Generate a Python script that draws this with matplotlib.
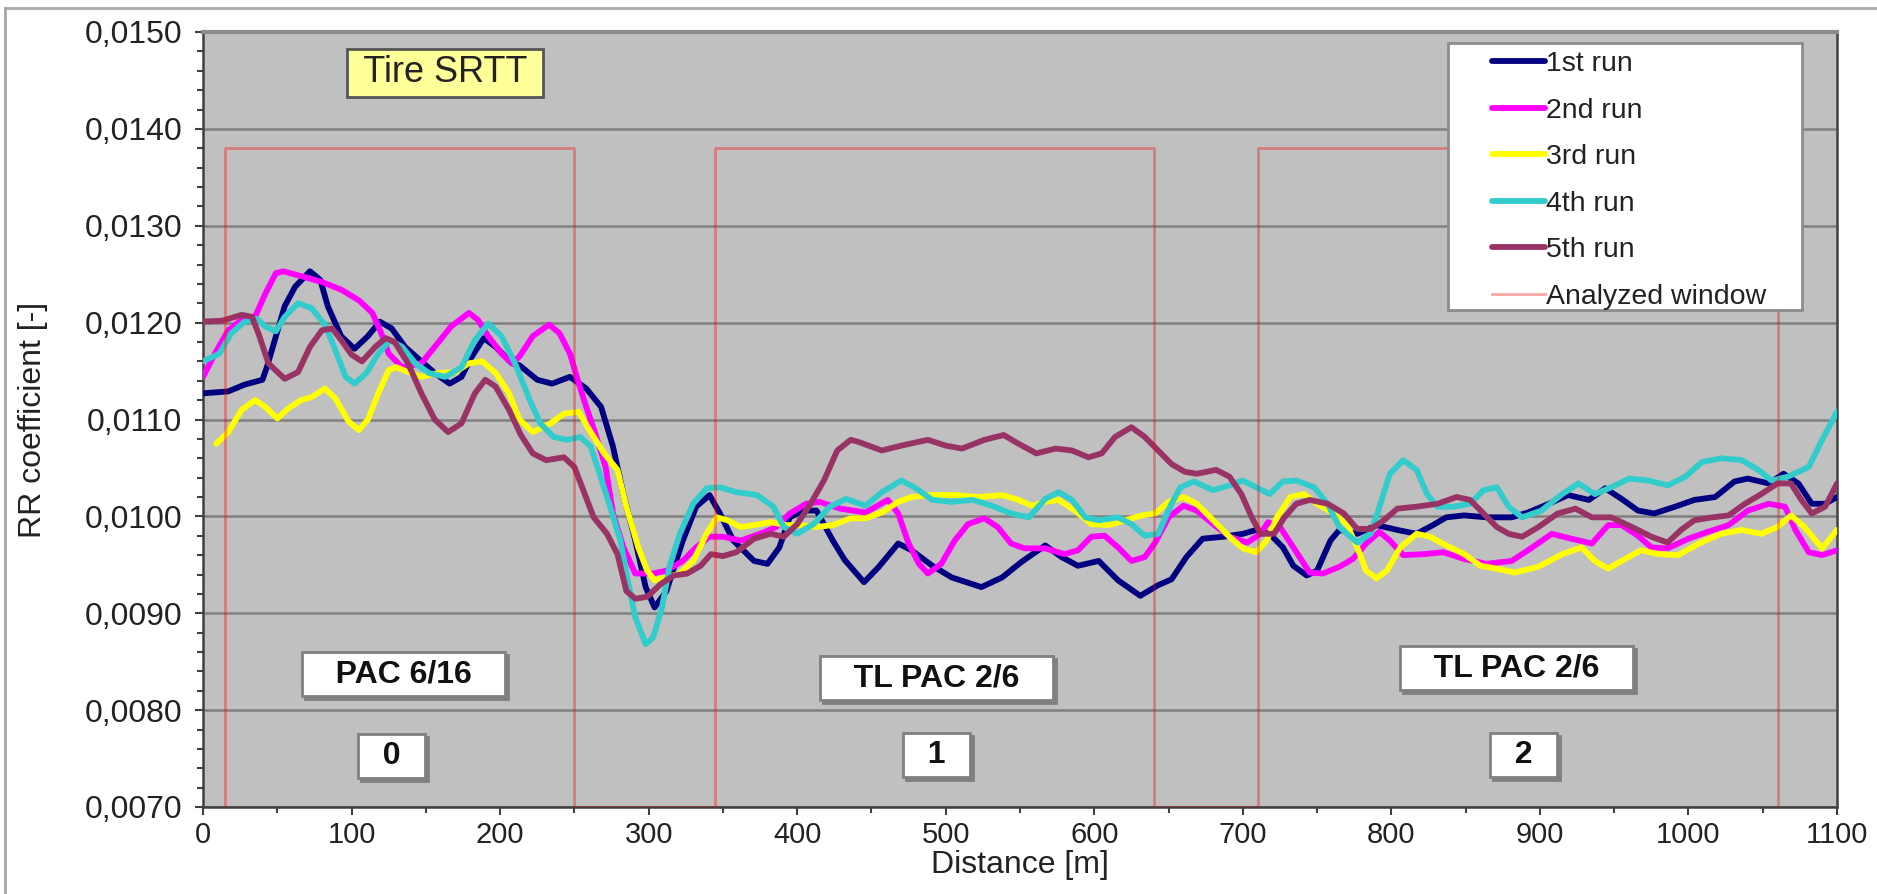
import numpy as np
import matplotlib
matplotlib.use("Agg")
import matplotlib.pyplot as plt
from matplotlib.ticker import MultipleLocator, FuncFormatter
from matplotlib.patches import Rectangle
from matplotlib.lines import Line2D
from matplotlib.transforms import offset_copy

plt.rcParams["font.family"] = ["Liberation Sans", "DejaVu Sans"]

# ---- data ----
run1_x = [0, 17, 28, 40, 43, 47, 55, 62, 72, 79, 84, 93, 102, 111, 119, 127, 136, 147, 156, 166,
          174, 181, 189, 197, 208, 213, 225, 235, 247, 258, 268, 276, 283, 291, 298, 304, 312, 323,
          332, 341, 348, 357, 371, 380, 388, 395, 404, 413, 424, 432, 445, 455, 468, 477, 491, 504,
          524, 538, 551, 567, 578, 589, 603, 616, 631, 643, 652, 662, 673, 687, 700, 709, 718, 727,
          734, 743, 750, 759, 765, 777, 790, 804, 817, 828, 837, 849, 864, 881, 892, 906, 919, 933,
          944, 955, 966, 977, 991, 1004, 1018, 1031, 1040, 1054, 1064, 1074, 1083, 1092, 1100]
run1_y = [0.01127, 0.01129, 0.01136, 0.01141, 0.01154, 0.01175, 0.01217, 0.01237, 0.01253, 0.01244,
          0.01217, 0.01186, 0.01173, 0.01186, 0.01201, 0.01194, 0.01175, 0.01160, 0.01148, 0.01137,
          0.01144, 0.01165, 0.01184, 0.01175, 0.01158, 0.01156, 0.01141, 0.01137, 0.01144, 0.01132,
          0.01113, 0.01072, 0.01023, 0.00975, 0.00927, 0.00906, 0.00923, 0.00975, 0.01010, 0.01022,
          0.01003, 0.00975, 0.00954, 0.00951, 0.00968, 0.00999, 0.01006, 0.01006, 0.00975, 0.00955,
          0.00932, 0.00948, 0.00972, 0.00965, 0.00949, 0.00937, 0.00927, 0.00937, 0.00953, 0.00970,
          0.00958, 0.00949, 0.00954, 0.00934, 0.00918, 0.00929, 0.00935, 0.00958, 0.00977, 0.00979,
          0.00982, 0.00986, 0.00982, 0.00968, 0.00949, 0.00939, 0.00944, 0.00975, 0.00986, 0.00982,
          0.00991, 0.00986, 0.00982, 0.00991, 0.00999, 0.01001, 0.00999, 0.00999, 0.01004, 0.01013,
          0.01022, 0.01017, 0.01029, 0.01018, 0.01006, 0.01003, 0.01010, 0.01017, 0.01020, 0.01036,
          0.01039, 0.01034, 0.01044, 0.01034, 0.01013, 0.01013, 0.01020]

run2_x = [0, 8, 17, 26, 35, 42, 49, 54, 66, 80, 93, 105, 114, 120, 125, 134, 147, 156, 167, 179,
          185, 192, 201, 208, 213, 222, 233, 240, 247, 253, 258, 264, 271, 276, 283, 291, 303, 312,
          323, 332, 341, 350, 362, 375, 386, 395, 406, 415, 429, 446, 461, 468, 475, 482, 488, 497,
          506, 515, 526, 535, 544, 553, 567, 580, 589, 598, 607, 616, 625, 634, 641, 650, 660, 669,
          680, 691, 703, 712, 717, 725, 734, 745, 754, 765, 774, 783, 792, 799, 808, 822, 835, 849,
          864, 881, 892, 908, 921, 935, 946, 955, 966, 975, 986, 1000, 1013, 1027, 1040, 1054, 1065,
          1072, 1081, 1090, 1100]
run2_y = [0.01144, 0.01168, 0.01192, 0.01203, 0.01206, 0.01230, 0.01251, 0.01253, 0.01248, 0.01242,
          0.01234, 0.01223, 0.01210, 0.01189, 0.01168, 0.01154, 0.01158, 0.01175, 0.01196, 0.01210,
          0.01203, 0.01186, 0.01168, 0.01158, 0.01165, 0.01186, 0.01198, 0.01189, 0.01168, 0.01137,
          0.01113, 0.01086, 0.01051, 0.01003, 0.00968, 0.00941, 0.00941, 0.00944, 0.00954, 0.00968,
          0.00979, 0.00979, 0.00975, 0.00982, 0.00989, 0.01003, 0.01013, 0.01015, 0.01008, 0.01004,
          0.01017, 0.01003, 0.00972, 0.00951, 0.00941, 0.00951, 0.00975, 0.00992, 0.00998, 0.00989,
          0.00972, 0.00967, 0.00967, 0.00961, 0.00965, 0.00979, 0.00980, 0.00968, 0.00954, 0.00958,
          0.00973, 0.00999, 0.01011, 0.01006, 0.00992, 0.00979, 0.00973, 0.00982, 0.00994, 0.00989,
          0.00968, 0.00942, 0.00941, 0.00948, 0.00956, 0.00972, 0.00984, 0.00975, 0.00960, 0.00961,
          0.00963, 0.00956, 0.00951, 0.00954, 0.00965, 0.00982, 0.00977, 0.00972, 0.00991, 0.00991,
          0.00980, 0.00968, 0.00967, 0.00977, 0.00984, 0.00991, 0.01006, 0.01013, 0.01010, 0.00986,
          0.00963, 0.00960, 0.00965]

run3_x = [9, 17, 26, 35, 42, 50, 57, 66, 73, 82, 89, 98, 105, 111, 118, 125, 130, 138, 147, 158,
          170, 179, 188, 197, 206, 213, 222, 234, 243, 253, 259, 270, 279, 285, 293, 299, 304, 312,
          321, 330, 339, 346, 353, 362, 371, 382, 393, 402, 413, 424, 436, 446, 457, 468, 477, 491,
          506, 522, 538, 549, 558, 567, 576, 587, 598, 610, 621, 632, 641, 650, 660, 669, 680, 691,
          700, 709, 716, 723, 732, 741, 750, 761, 770, 777, 783, 790, 797, 806, 817, 826, 837, 849,
          860, 871, 883, 899, 915, 928, 937, 946, 955, 968, 980, 993, 1007, 1022, 1036, 1049, 1060,
          1069, 1078, 1090, 1100]
run3_y = [0.01075, 0.01087, 0.01110, 0.01120, 0.01113, 0.01101, 0.01111, 0.01120, 0.01123, 0.01132,
          0.01122, 0.01098, 0.01089, 0.01100, 0.01127, 0.01151, 0.01154, 0.01149, 0.01144, 0.01148,
          0.01149, 0.01158, 0.01160, 0.01148, 0.01127, 0.01100, 0.01087, 0.01096, 0.01106, 0.01108,
          0.01092, 0.01065, 0.01048, 0.01010, 0.00968, 0.00944, 0.00934, 0.00937, 0.00941, 0.00954,
          0.00982, 0.00999, 0.00996, 0.00989, 0.00991, 0.00994, 0.00991, 0.00991, 0.00989, 0.00991,
          0.00998, 0.00998, 0.01004, 0.01015, 0.01020, 0.01022, 0.01022, 0.01020, 0.01022, 0.01017,
          0.01011, 0.01015, 0.01017, 0.01006, 0.00992, 0.00991, 0.00996, 0.01001, 0.01003, 0.01015,
          0.01020, 0.01013, 0.00996, 0.00979, 0.00967, 0.00963, 0.00975, 0.00999, 0.01020, 0.01023,
          0.01013, 0.01003, 0.00992, 0.00968, 0.00944, 0.00936, 0.00944, 0.00968, 0.00982, 0.00979,
          0.00970, 0.00961, 0.00949, 0.00946, 0.00942, 0.00948, 0.00961, 0.00968, 0.00954, 0.00946,
          0.00954, 0.00965, 0.00961, 0.00960, 0.00972, 0.00982, 0.00986, 0.00982, 0.00989, 0.01001,
          0.00989, 0.00967, 0.00986]

run4_x = [0, 11, 19, 28, 36, 42, 49, 55, 64, 73, 82, 89, 96, 102, 110, 118, 126, 134, 143, 152,
          163, 174, 183, 192, 201, 210, 220, 227, 236, 245, 254, 261, 267, 274, 281, 285, 291, 298,
          303, 309, 314, 321, 330, 339, 348, 359, 373, 384, 391, 400, 411, 422, 433, 446, 457, 470,
          479, 491, 504, 518, 531, 544, 556, 567, 576, 585, 594, 603, 616, 625, 634, 643, 652, 658,
          667, 680, 691, 700, 709, 718, 727, 736, 748, 757, 765, 777, 786, 792, 799, 808, 817, 824,
          831, 842, 853, 862, 871, 879, 888, 901, 915, 926, 937, 948, 960, 973, 986, 998, 1009, 1022,
          1036, 1047, 1056, 1067, 1081, 1090, 1100]
run4_y = [0.01160, 0.01168, 0.01189, 0.01201, 0.01204, 0.01196, 0.01191, 0.01206, 0.01220, 0.01215,
          0.01198, 0.01172, 0.01144, 0.01137, 0.01148, 0.01168, 0.01182, 0.01175, 0.01158, 0.01148,
          0.01144, 0.01154, 0.01182, 0.01199, 0.01186, 0.01158, 0.01120, 0.01096, 0.01082, 0.01079,
          0.01082, 0.01072, 0.01044, 0.01010, 0.00975, 0.00941, 0.00896, 0.00868, 0.00875, 0.00906,
          0.00948, 0.00982, 0.01013, 0.01029, 0.01030, 0.01025, 0.01022, 0.01010, 0.00989, 0.00982,
          0.00992, 0.01010, 0.01018, 0.01011, 0.01025, 0.01037, 0.01030, 0.01017, 0.01015, 0.01017,
          0.01011, 0.01003, 0.00999, 0.01018, 0.01025, 0.01017, 0.00999, 0.00996, 0.00999, 0.00992,
          0.00980, 0.00982, 0.01013, 0.01030, 0.01036, 0.01027, 0.01032, 0.01037, 0.01030, 0.01023,
          0.01036, 0.01037, 0.01030, 0.01013, 0.00989, 0.00973, 0.00982, 0.01010, 0.01044, 0.01058,
          0.01048, 0.01023, 0.01010, 0.01010, 0.01013, 0.01027, 0.01030, 0.01010, 0.00999, 0.01006,
          0.01023, 0.01034, 0.01023, 0.01030, 0.01039, 0.01037, 0.01032, 0.01041, 0.01056, 0.01060,
          0.01058, 0.01048, 0.01037, 0.01041, 0.01051, 0.01079, 0.01108]

run5_x = [0, 13, 26, 33, 38, 44, 55, 64, 72, 80, 87, 93, 100, 107, 116, 123, 129, 138, 147, 156,
          165, 174, 183, 190, 197, 206, 214, 222, 231, 243, 250, 256, 263, 272, 279, 285, 291, 299,
          308, 317, 326, 335, 342, 350, 359, 371, 382, 391, 400, 409, 418, 427, 436, 441, 457, 470,
          488, 500, 511, 526, 539, 549, 561, 574, 585, 596, 605, 614, 625, 634, 643, 652, 661, 669,
          682, 691, 699, 706, 712, 721, 728, 736, 745, 757, 768, 777, 786, 795, 804, 817, 831, 844,
          853, 862, 871, 879, 888, 899, 912, 924, 935, 948, 962, 975, 986, 995, 1004, 1016, 1027,
          1038, 1049, 1060, 1069, 1076, 1083, 1092, 1100]
run5_y = [0.01201, 0.01202, 0.01208, 0.01206, 0.01186, 0.01158, 0.01142, 0.01149, 0.01175, 0.01192,
          0.01194, 0.01182, 0.01167, 0.01160, 0.01175, 0.01184, 0.01180, 0.01158, 0.01127, 0.01100,
          0.01087, 0.01096, 0.01127, 0.01141, 0.01134, 0.01110, 0.01084, 0.01065, 0.01058, 0.01061,
          0.01051, 0.01027, 0.00999, 0.00982, 0.00961, 0.00923, 0.00915, 0.00917, 0.00930, 0.00939,
          0.00941, 0.00949, 0.00961, 0.00959, 0.00963, 0.00977, 0.00982, 0.00979, 0.00992, 0.01013,
          0.01037, 0.01068, 0.01079, 0.01077, 0.01068, 0.01073, 0.01079, 0.01073, 0.01070, 0.01079,
          0.01084, 0.01075, 0.01065, 0.01070, 0.01068, 0.01061, 0.01065, 0.01082, 0.01092, 0.01082,
          0.01068, 0.01054, 0.01046, 0.01044, 0.01048, 0.01041, 0.01023, 0.00999, 0.00982, 0.00982,
          0.00999, 0.01013, 0.01017, 0.01013, 0.01003, 0.00987, 0.00987, 0.00996, 0.01008, 0.01010,
          0.01013, 0.01020, 0.01017, 0.01003, 0.00989, 0.00982, 0.00979, 0.00989, 0.01003, 0.01008,
          0.00999, 0.00999, 0.00989, 0.00979, 0.00973, 0.00986, 0.00996, 0.00999, 0.01001, 0.01013,
          0.01023, 0.01034, 0.01034, 0.01017, 0.01003, 0.01010, 0.01034]

run_labels = ["1st run", "2nd run", "3rd run", "4th run", "5th run"]
run_colors = ["#000080", "#FF00FF", "#FFFF00", "#33CCCC", "#993366"]

window_start = [15, 345, 710]
window_end = [250, 640, 1060]
window_level = 0.0138

section_names = ["PAC 6/16", "TL PAC 2/6", "TL PAC 2/6"]
section_ids = ["0", "1", "2"]
section_name_pos = [(135, 0.00837), (494, 0.00833), (884, 0.00843)]
section_id_pos = [(127, 0.00753), (494, 0.00754), (889, 0.00754)]

# ---- figure ----
W, H = 1877, 894
fig = plt.figure(figsize=(W / 100, H / 100), dpi=100)
ax = fig.add_axes([203 / W, 1 - 807 / H, 1634 / W, 775 / H])
ax.set_facecolor("#C0C0C0")
ax.set_xlim(0, 1100)
ax.set_ylim(0.007, 0.015)

runs = [(run1_x, run1_y), (run2_x, run2_y), (run3_x, run3_y), (run4_x, run4_y), (run5_x, run5_y)]
handles = []
for (xs, ys), lab, col in zip(runs, run_labels, run_colors):
    h, = ax.plot(xs, ys, color=col, lw=4.2, label=lab, zorder=3,
                 solid_joinstyle="round", solid_capstyle="round")
    handles.append(h)

# analyzed windows
wx, wy = [], []
for s, e in zip(window_start, window_end):
    wx += [s, s, e, e]
    wy += [0.007, window_level, window_level, 0.007]
wh, = ax.plot(wx, wy, color="red", alpha=0.35, lw=2, label="Analyzed window", zorder=4)
handles.append(wh)

# axes styling
ax.xaxis.set_major_locator(MultipleLocator(100))
ax.xaxis.set_minor_locator(MultipleLocator(50))
ax.yaxis.set_major_locator(MultipleLocator(0.001))
ax.yaxis.set_minor_locator(MultipleLocator(0.0002))
ax.yaxis.set_major_formatter(FuncFormatter(lambda v, p: f"{v:.4f}".replace(".", ",")))
ax.tick_params(which="major", direction="out", length=6, width=1.5, color="#404040",
               labelcolor="#222222")
ax.tick_params(axis="y", which="major", pad=9, labelsize=23)
ax.tick_params(axis="x", which="major", pad=4, labelsize=21)
ax.tick_params(which="minor", direction="out", length=4, width=1.5, color="#404040")
ax.yaxis.grid(True, color="#808080", lw=1.8)
ax.set_axisbelow(True)
for side in ["left", "bottom", "right"]:
    ax.spines[side].set_color("#404040")
    ax.spines[side].set_linewidth(1.8)
ax.spines["top"].set_color("#8C8C8C")
ax.spines["top"].set_linewidth(3)

ax.set_xlabel("Distance [m]", fontsize=23, color="#222222")
ax.set_ylabel("RR coefficient [-]", fontsize=23, color="#222222")
ax.xaxis.set_label_coords(0.5, -0.055)
ax.yaxis.set_label_coords(-0.095, 0.5)

# legend with its own frame
frame = Rectangle((0.762, 0.6413), 0.2166, 0.3445, transform=ax.transAxes,
                  facecolor="white", edgecolor="#8C8C8C", lw=2, zorder=6)
ax.add_patch(frame)
leg = ax.legend(handles=handles, loc="upper left", bbox_to_anchor=(0.7889, 0.975),
                frameon=False, fontsize=20.5, handlelength=1.85, handletextpad=0.05,
                labelspacing=0.72, borderpad=0, borderaxespad=0)
leg.set_zorder(7)
for t in leg.get_texts():
    t.set_color("#222222")

# title box
ax.text(163, 0.01458, " Tire SRTT ", fontsize=26, ha="center", va="center", zorder=8,
        color="#222222",
        bbox=dict(boxstyle="square,pad=0.18", facecolor="#FFFF99", edgecolor="#555555", lw=2))

# section boxes with drop shadow
shadow = offset_copy(ax.transData, fig=fig, x=3, y=-3, units="dots")
for (nx, ny), name in zip(section_name_pos, section_names):
    txt = "   " + name + "   "
    ax.text(nx, ny, txt, fontsize=23, fontweight="bold", ha="center", va="center",
            transform=shadow, color="#808080", zorder=7,
            bbox=dict(boxstyle="square,pad=0.22", facecolor="#808080", edgecolor="#808080", lw=2))
    ax.text(nx, ny, txt, fontsize=23, fontweight="bold", ha="center", va="center", zorder=8,
            color="#111111",
            bbox=dict(boxstyle="square,pad=0.22", facecolor="white", edgecolor="#808080", lw=2))
for (nx, ny), sid in zip(section_id_pos, section_ids):
    txt = "  " + sid + "  "
    ax.text(nx, ny, txt, fontsize=23, fontweight="bold", ha="center", va="center",
            transform=shadow, color="#808080", zorder=7,
            bbox=dict(boxstyle="square,pad=0.22", facecolor="#808080", edgecolor="#808080", lw=2))
    ax.text(nx, ny, txt, fontsize=23, fontweight="bold", ha="center", va="center", zorder=8,
            color="#111111",
            bbox=dict(boxstyle="square,pad=0.22", facecolor="white", edgecolor="#808080", lw=2))

# outer chart frame (left and top edges)
fig.add_artist(Line2D([5 / W, 5 / W], [0, 1 - 8 / H], transform=fig.transFigure,
                      color="#A8A8A8", lw=2))
fig.add_artist(Line2D([5 / W, 1], [1 - 8 / H, 1 - 8 / H], transform=fig.transFigure,
                      color="#A8A8A8", lw=2))

fig.savefig("out.png", dpi=100, facecolor="white")
